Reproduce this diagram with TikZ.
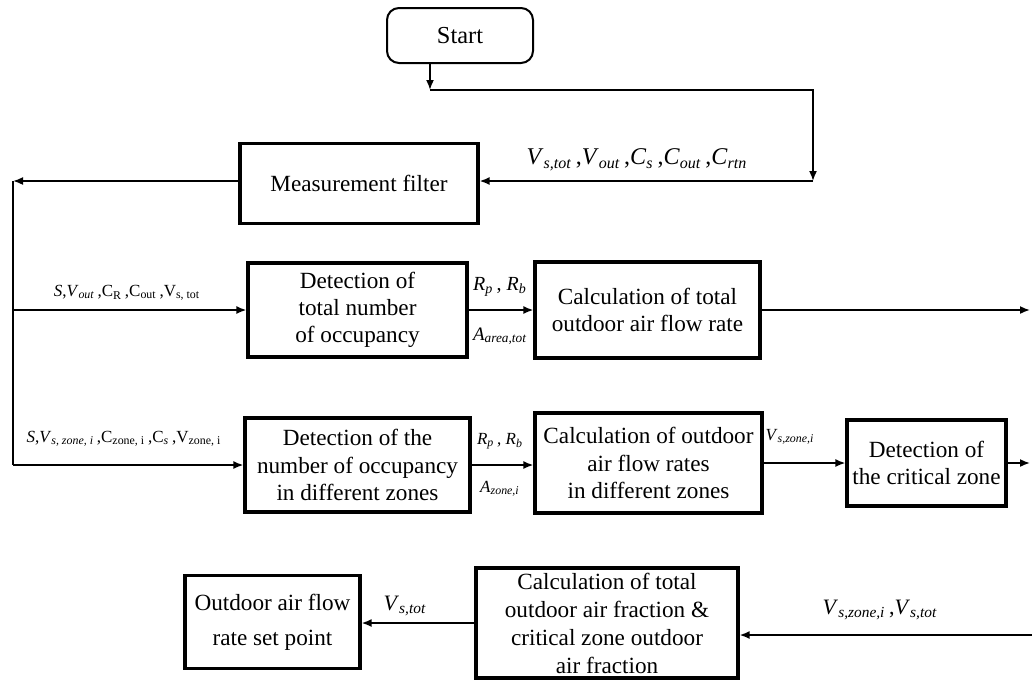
\documentclass[tikz,border=0pt]{standalone}
\usepackage{amsmath}
\usepackage{fontspec}
\setmainfont{Liberation Serif}
\usepackage{tikz}
\usetikzlibrary{arrows.meta}

\newcommand{\vsub}[2]{\textit{#1}$_{\textit{#2}}$}

\begin{document}
\begin{tikzpicture}[x=0.5pt,y=-0.5pt,
    >={Latex[length=5pt,width=4pt]},
    flow/.style={line width=0.85pt},
    box/.style={draw,line width=1.6pt,align=center,inner sep=0pt,
      font=\fontsize{11.6}{13.6}\selectfont},
    lbl/.style={inner sep=0pt}]
  \useasboundingbox (0,0) rectangle (1032,681);

    % boxes
    \node [draw,line width=1pt,rounded corners=6pt,minimum width=73pt,minimum height=27.5pt,
      font=\fontsize{12.2}{13.6}\selectfont] (start) at (460,35.5){Start};
    \node [box,minimum width=119pt,minimum height=40pt] (mf) at (359,183.5){Measurement filter};
    \node [box,minimum width=109.5pt,minimum height=47pt] (det1) at (357.5,310)
      {Detection of\\total number\\of occupancy};
    \node [box,minimum width=112.5pt,minimum height=48pt] (calc1) at (647.5,310)
      {Calculation of total\\outdoor air flow rate};
    \node [box,minimum width=112.5pt,minimum height=47pt] (det2) at (357.5,465)
      {Detection of the\\number of occupancy\\in different zones};
    \node [box,minimum width=113.5pt,minimum height=50pt] (calc2) at (648.5,463)
      {Calculation of outdoor\\air flow rates\\in different zones};
    \node [box,minimum width=79.5pt,minimum height=43pt] (crit) at (926.5,463)
      {Detection of\\the critical zone};
    \node [box,minimum width=131pt,minimum height=55pt,
      font=\fontsize{11.6}{14}\selectfont] (frac) at (607,623)
      {Calculation of total\\outdoor air fraction \&\\critical zone outdoor\\air fraction};
    \node [box,minimum width=87.5pt,minimum height=46.5pt,
      font=\fontsize{11.6}{17.5}\selectfont] (setp) at (272.5,622)
      {Outdoor air flow\\rate set point};

    % corners
    \coordinate (j1) at (430,90);
    \coordinate (j2) at (813,90);
    \coordinate (j3) at (813,181);
    \coordinate (lt) at (13,181);
    \coordinate (lb) at (13,465);
    \coordinate (r1) at (1030,310);
    \coordinate (r2) at (1030,463);
    \coordinate (r3) at (1032,635);

    % arrows
    \draw [->,flow] (start.south -| j1) -- (j1);
    \draw [->,flow] (j1) -- (j2) -- (j3);
    \draw [->,flow] (j3) -- (mf.east |- j3);
    \draw [->,flow] (mf.west |- lt) -- (lt);
    \draw [line width=1.4pt] (lt) -- (lb);
    \draw [->,flow] (lt |- det1.west) -- (det1.west);
    \draw [->,flow] (lb) -- (det2.west);
    \draw [->,flow] (det1) -- (calc1);
    \draw [->,flow] (calc1.east) -- (r1);
    \draw [->,flow] (det2.east) -- (det2.east -| calc2.west);
    \draw [->,flow] (calc2) -- (crit);
    \draw [->,flow] (crit.east) -- (r2);
    \draw [->,flow] (r3) -- (frac.east |- r3);
    \draw [->,flow] (frac.west) -- (setp.east |- frac.west);

    % label
    \node [lbl,font=\fontsize{12}{14}\selectfont] (l1) at (637,160)
      {\vsub{V}{s,tot}\,,\vsub{V}{out}\,,\vsub{C}{s}\,,\vsub{C}{out}\,,\vsub{C}{rtn}};
    \node [lbl,font=\fontsize{8.5}{10}\selectfont] (l2) at (127,293)
      {\textit{S},\vsub{V}{out}\,,C$_{\text{R}}$\,,C$_{\text{out}}$\,,V$_{\text{s, tot}}$};
    \node [lbl,font=\fontsize{8.5}{10}\selectfont] (l3) at (124,439)
      {\textit{S},\vsub{V}{s, zone, i}\,,C$_{\text{zone, i}}$\,,C$_{\textit{s}}$\,,V$_{\text{zone, i}}$};
    \node [lbl,font=\fontsize{10}{11}\selectfont] (l4) at (500,287){\vsub{R}{p}\,, \vsub{R}{b}};
    \node [lbl,font=\fontsize{9.5}{11}\selectfont] (l5) at (500,336){\vsub{A}{area,tot}};
    \node [lbl,font=\fontsize{8.5}{10}\selectfont] (l6) at (500,441){\vsub{R}{p}\,, \vsub{R}{b}};
    \node [lbl,font=\fontsize{8.5}{10}\selectfont] (l7) at (500,489){\vsub{A}{zone,i}};
    \node [lbl,font=\fontsize{8.5}{10}\selectfont] (l8) at (790,437){\vsub{V}{s,zone,i}};
    \node [lbl,font=\fontsize{11}{13}\selectfont] (l9) at (405,606){\vsub{V}{s,tot}};
    \node [lbl,font=\fontsize{11}{13}\selectfont] (l10) at (880,610){\vsub{V}{s,zone,i}\,,\vsub{V}{s,tot}};
\end{tikzpicture}
\end{document}
